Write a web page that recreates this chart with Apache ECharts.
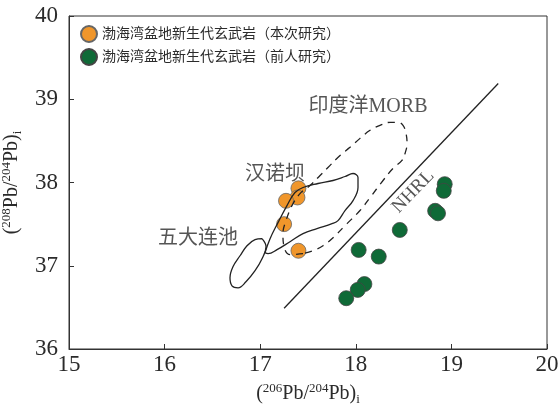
<!DOCTYPE html>
<html>
<head>
<meta charset="utf-8">
<script src="https://cdn.jsdelivr.net/npm/echarts@6/dist/echarts.min.js"></script>
<style>
  html, body { margin: 0; padding: 0; background: #fff; }
  #chart { width: 559px; height: 412px; }
</style>
</head>
<body>
<div id="chart"></div>
<script>
// data
const thisStudy = [
  [17.40, 37.93], [17.39, 37.82], [17.27, 37.78], [17.25, 37.50], [17.40, 37.18]
]
const previousStudy = [
  [18.93, 37.98], [18.92, 37.90], [18.83, 37.66], [18.86, 37.63], [18.46, 37.43],
  [18.03, 37.19], [18.24, 37.11], [18.09, 36.78], [18.02, 36.71], [17.90, 36.61]
]
const nhrlLine = [[17.25, 36.49], [19.49, 39.19]]
const morbField = [
  [17.448, 37.145], [17.312, 37.133], [17.249, 37.229], [17.238, 37.386], [17.270, 37.542],
  [17.333, 37.723], [17.416, 37.867], [17.521, 37.964], [17.626, 38.084], [17.709, 38.181],
  [17.835, 38.325], [17.939, 38.422], [18.044, 38.530], [18.149, 38.627], [18.253, 38.687],
  [18.358, 38.723], [18.441, 38.723], [18.494, 38.687], [18.525, 38.590], [18.536, 38.470],
  [18.515, 38.349], [18.483, 38.265], [18.389, 38.169], [18.285, 38.024], [18.149, 37.819],
  [18.044, 37.663], [17.908, 37.506], [17.762, 37.337], [17.657, 37.241], [17.552, 37.181],
  [17.448, 37.145]
]
const hannuobaField = [
  [17.050, 37.157], [17.103, 37.325], [17.186, 37.518], [17.280, 37.723], [17.364, 37.880],
  [17.448, 37.940], [17.605, 37.988], [17.762, 38.024], [17.887, 38.072], [17.971, 38.108],
  [18.023, 38.060], [18.023, 37.940], [17.971, 37.783], [17.887, 37.663], [17.814, 37.542],
  [17.751, 37.506], [17.594, 37.446], [17.448, 37.386], [17.312, 37.289], [17.176, 37.193],
  [17.082, 37.145], [17.050, 37.157]
]
const wudalianchiField = [
  [17.019, 37.325], [16.946, 37.313], [16.862, 37.241], [16.789, 37.120], [16.715, 36.988],
  [16.684, 36.855], [16.705, 36.759], [16.768, 36.735], [16.851, 36.807], [16.946, 36.940],
  [17.019, 37.084], [17.061, 37.229], [17.019, 37.325]
]
const fieldLabels = [
  { name: '印度洋MORB', value: [18.128, 38.904] },
  { name: '汉诺坝', value: [17.155, 38.096] },
  { name: '五大连池', value: [16.349, 37.325] }
]
const nhrlLabel = [{ name: 'NHRL', value: [18.60, 37.89] }]
const seriesNames = ['渤海湾盆地新生代玄武岩（本次研究）', '渤海湾盆地新生代玄武岩（前人研究）']

const font = "'Liberation Serif', 'Noto Sans CJK SC', serif"
const textColor = '#2b2b2b'

const nameRich = {
  a: { fontFamily: font, fontSize: 20, color: textColor, lineHeight: 24 },
  s: { fontFamily: font, fontSize: 13, color: textColor, lineHeight: 24, verticalAlign: 'top', padding: [0, 0, 9, 0] },
  b: { fontFamily: font, fontSize: 13, color: textColor, lineHeight: 24, verticalAlign: 'bottom', padding: [9, 0, 0, 0] }
}

const chart = echarts.init(document.getElementById('chart'))

const option = {
  animation: false,
  grid: {
    left: 69, right: 12, top: 16, bottom: 63,
    outerBoundsMode: 'none',
    show: true, borderColor: '#333', borderWidth: 1
  },
  legend: {
    orient: 'vertical',
    left: 75, top: 20,
    itemWidth: 16, itemHeight: 16, itemGap: 5,
    data: seriesNames,
    textStyle: { fontFamily: font, fontSize: 14, color: textColor }
  },
  xAxis: {
    type: 'value', min: 15, max: 20, interval: 1,
    name: '{a|(}{s|206}{a|Pb/}{s|204}{a|Pb)}{b|i}',
    nameLocation: 'middle', nameGap: 33,
    nameTextStyle: { rich: nameRich },
    axisLine: { lineStyle: { color: '#333' } },
    axisTick: { inside: true, length: 5, lineStyle: { color: '#333' } },
    axisLabel: { fontFamily: font, fontSize: 23, color: textColor, margin: 4 },
    splitLine: { show: false }
  },
  yAxis: {
    type: 'value', min: 36, max: 40, interval: 1,
    name: '{a|(}{s|208}{a|Pb/}{s|204}{a|Pb)}{b|i}',
    nameLocation: 'middle', nameGap: 41, nameRotate: 90,
    nameTextStyle: { rich: nameRich },
    axisLine: { lineStyle: { color: '#333' } },
    axisTick: { inside: true, length: 5, lineStyle: { color: '#333' } },
    axisLabel: { fontFamily: font, fontSize: 23, color: textColor, margin: 11 },
    splitLine: { show: false }
  },
  series: [
    {
      name: seriesNames[0], type: 'scatter', symbolSize: 15, z: 2,
      itemStyle: { color: '#F0962B', borderColor: '#666', borderWidth: 0.8, opacity: 1 },
      data: thisStudy
    },
    {
      name: seriesNames[1], type: 'scatter', symbolSize: 15, z: 2,
      itemStyle: { color: '#0F6A37', borderColor: '#444', borderWidth: 0.8, opacity: 1 },
      data: previousStudy
    },
    {
      type: 'line', data: nhrlLine, symbol: 'none', z: 3, silent: true,
      lineStyle: { color: '#222', width: 1.3 }
    },
    {
      type: 'line', data: morbField, symbol: 'none', smooth: 0.4, z: 3, silent: true,
      lineStyle: { color: '#222', width: 1.3, type: [7, 6] }
    },
    {
      type: 'line', data: hannuobaField, symbol: 'none', smooth: 0.4, z: 3, silent: true,
      lineStyle: { color: '#222', width: 1.3 }
    },
    {
      type: 'line', data: wudalianchiField, symbol: 'none', smooth: 0.4, z: 3, silent: true,
      lineStyle: { color: '#222', width: 1.3 }
    },
    {
      type: 'scatter', data: fieldLabels, symbolSize: 0, z: 4, silent: true,
      label: {
        show: true, position: 'inside', formatter: '{b}',
        fontFamily: font, fontSize: 20, color: textColor
      }
    },
    {
      type: 'scatter', data: nhrlLabel, symbolSize: 0, z: 4, silent: true,
      label: {
        show: true, position: 'inside', formatter: '{b}', rotate: 46,
        fontFamily: font, fontSize: 19, color: textColor
      }
    }
  ]
}

chart.setOption(option)
</script>
</body>
</html>
